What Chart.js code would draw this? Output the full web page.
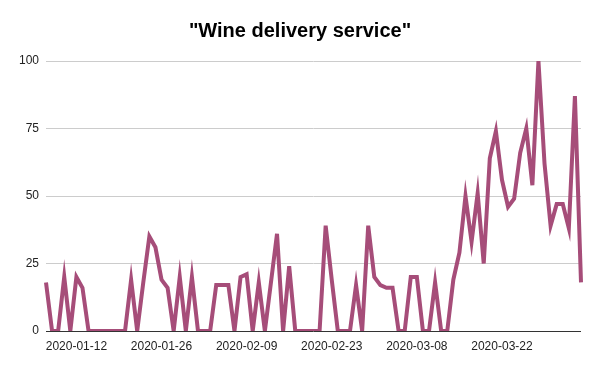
<!DOCTYPE html>
<html>
<head>
<meta charset="utf-8">
<script src="https://cdn.jsdelivr.net/npm/chart.js@4/dist/chart.umd.min.js"></script>
<style>
  html, body { margin: 0; padding: 0; background: #fff; }
  #wrap { width: 600px; height: 371px; }
</style>
</head>
<body>
<div id="wrap"><canvas id="c" width="600" height="371"></canvas></div>
<script>
const TITLE = '"Wine delivery service"';
const START_DATE = '2020-01-07';
const values = [
  18, 0, 0, 20, 0, 20, 16, 0, 0, 0,
  0, 0, 0, 0, 19, 0, 18, 35, 31, 19,
  16, 0, 20, 0, 20, 0, 0, 0, 17, 17,
  17, 0, 20, 21, 0, 18, 0, 18, 36, 0,
  24, 0, 0, 0, 0, 0, 39, 19, 0, 0,
  0, 17, 0, 39, 20, 17, 16, 16, 0, 0,
  20, 20, 0, 0, 18, 0, 0, 19, 29, 50,
  33, 51, 25, 64, 74, 56, 46, 49, 66, 75,
  54, 100, 62, 39, 47, 47, 38, 87, 18
];
const yTicks = [0, 25, 50, 75, 100];
const xTickEvery = 14;
const xTickFirst = 5;

const categories = [];
{
  const d0 = new Date(START_DATE + 'T00:00:00Z');
  for (let i = 0; i < values.length; i++) {
    const d = new Date(d0.getTime() + i * 86400000);
    categories.push(d.toISOString().slice(0, 10));
  }
}

const FONT = "'Liberation Sans', Arial, sans-serif";

new Chart(document.getElementById('c'), {
  type: 'line',
  data: {
    labels: categories,
    datasets: [{
      data: values,
      borderColor: '#a64d79',
      borderWidth: 4,
      pointRadius: 0,
      pointHoverRadius: 0,
      tension: 0,
      fill: false,
      borderJoinStyle: 'miter'
    }]
  },
  options: {
    responsive: false,
    animation: false,
    devicePixelRatio: 1,
    layout: { padding: 0 },
    plugins: {
      legend: { display: false },
      tooltip: { enabled: false },
      title: {
        display: true,
        text: TITLE,
        color: '#000',
        font: { family: FONT, size: 20, weight: 'bold', lineHeight: 1.2 },
        padding: { top: 19, bottom: 18 }
      }
    },
    scales: {
      x: {
        type: 'category',
        offset: false,
        grid: { display: false, drawTicks: false },
        border: { display: false },
        afterFit: (s) => { s.height = 40; },
        ticks: {
          autoSkip: false,
          maxRotation: 0,
          minRotation: 0,
          padding: 8,
          color: '#222',
          font: { family: FONT, size: 12 },
          callback: function (val, idx) {
            return (idx - xTickFirst) % xTickEvery === 0 && idx >= xTickFirst ? this.getLabelForValue(val) : '';
          }
        }
      },
      y: {
        min: yTicks[0],
        max: yTicks[yTicks.length - 1],
        afterFit: (s) => { s.width = 46; },
        afterBuildTicks: (s) => { s.ticks = yTicks.map(v => ({ value: v })); },
        border: { display: false },
        grid: {
          drawTicks: false,
          lineWidth: 1,
          color: (ctx) => (ctx.tick && ctx.tick.value === 0) ? '#333' : '#ccc'
        },
        ticks: {
          padding: 7,
          color: '#222',
          font: { family: FONT, size: 12 }
        }
      },
      yRight: {
        position: 'right',
        min: 0,
        max: 100,
        afterFit: (s) => { s.width = 19; },
        border: { display: false },
        grid: { display: false, drawTicks: false },
        ticks: { display: false }
      }
    }
  }
});
</script>
</body>
</html>
